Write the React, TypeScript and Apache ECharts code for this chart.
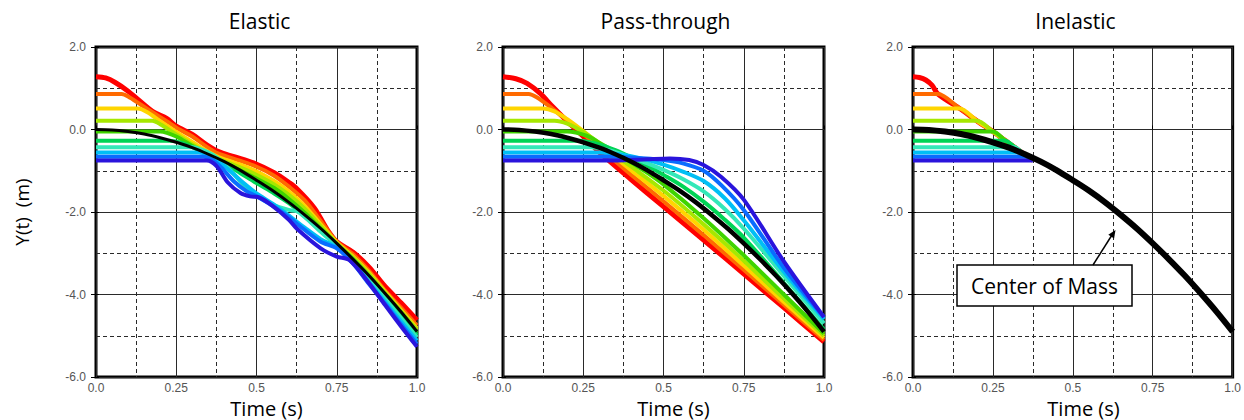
import React, { useEffect, useRef } from "react";
import * as echarts from "echarts";

type Pt = [number, number];

// ---------- texts ----------
const panelTitles = ["Elastic", "Pass-through", "Inelastic"];
const xTickValues = [0, 0.25, 0.5, 0.75, 1];
const xTickLabels = ["0.0", "0.25", "0.5", "0.75", "1.0"];
const xAxisTitle = "Time (s)";
const yAxisTitle = "Y(t)  (m)";
const calloutText = "Center of Mass";

// ---------- particle colours (top particle first) ----------
const particleColors = [
  "#ff0000", "#ff6a00", "#ffd500", "#a6e800", "#3fd400",
  "#00d455", "#33e8b8", "#00bff5", "#0a6cff", "#2a14dc",
];
const startLevels = [1.28, 0.86, 0.51, 0.21, -0.05, -0.27, -0.43, -0.56, -0.66, -0.75];

// ---------- centre of mass (black) ----------
const comTimes = [0, 0.05, 0.1, 0.15, 0.2, 0.25, 0.3, 0.35, 0.4, 0.45, 0.5, 0.55, 0.6, 0.65, 0.7, 0.75, 0.8, 0.85, 0.9, 0.95, 1.0];
const comValues = [0, -0.01, -0.05, -0.11, -0.2, -0.31, -0.44, -0.6, -0.78, -0.99, -1.23, -1.48, -1.76, -2.07, -2.4, -2.76, -3.14, -3.54, -3.97, -4.42, -4.9];

// ---------- Elastic ----------
const elasticRed: Pt[] = [[0, 1.28], [0.03, 1.25], [0.06, 1.14], [0.1, 0.93], [0.14, 0.67], [0.18, 0.42], [0.22, 0.27], [0.25, 0.08], [0.3, -0.12], [0.345, -0.37], [0.38, -0.53], [0.43, -0.66], [0.49, -0.81], [0.555, -1.05], [0.6, -1.28], [0.625, -1.43], [0.68, -1.9], [0.72, -2.42], [0.75, -2.72], [0.8, -2.97], [0.85, -3.33], [0.9, -3.8], [0.95, -4.2], [1.0, -4.62]];
const elasticOrange: Pt[] = [[0, 0.86], [0.06, 0.86], [0.08, 0.86], [0.1, 0.8], [0.14, 0.6], [0.18, 0.4], [0.22, 0.2], [0.26, 0.0], [0.3, -0.17], [0.345, -0.42], [0.38, -0.58], [0.43, -0.71], [0.49, -0.87], [0.555, -1.12], [0.6, -1.38], [0.65, -1.72], [0.7, -2.22], [0.75, -2.72], [0.8, -3.02], [0.85, -3.42], [0.9, -3.9], [0.95, -4.32], [1.0, -4.75]];
const elasticYellow: Pt[] = [[0, 0.51], [0.11, 0.51], [0.13, 0.51], [0.16, 0.42], [0.2, 0.2], [0.25, -0.06], [0.3, -0.3], [0.345, -0.52], [0.38, -0.66], [0.43, -0.8], [0.49, -0.98], [0.555, -1.25], [0.6, -1.5], [0.65, -1.85], [0.7, -2.3], [0.75, -2.74], [0.8, -3.08], [0.85, -3.47], [0.9, -3.93], [0.95, -4.38], [1.0, -4.82]];
const elasticLime: Pt[] = [[0, 0.21], [0.155, 0.21], [0.175, 0.21], [0.2, 0.13], [0.25, -0.12], [0.3, -0.36], [0.345, -0.57], [0.38, -0.7], [0.43, -0.86], [0.49, -1.06], [0.555, -1.33], [0.6, -1.58], [0.65, -1.92], [0.7, -2.34], [0.75, -2.76], [0.8, -3.1], [0.85, -3.5], [0.9, -3.95], [0.95, -4.4], [1.0, -4.86]];
const elasticGreen: Pt[] = [[0, -0.05], [0.18, -0.05], [0.2, -0.05], [0.25, -0.17], [0.3, -0.4], [0.345, -0.6], [0.38, -0.73], [0.43, -0.92], [0.49, -1.15], [0.555, -1.42], [0.6, -1.68], [0.65, -2.02], [0.7, -2.4], [0.75, -2.78], [0.8, -3.14], [0.85, -3.55], [0.9, -4.0], [0.95, -4.45], [1.0, -4.92]];
const elasticGreen2: Pt[] = [[0, -0.27], [0.21, -0.27], [0.23, -0.27], [0.27, -0.33], [0.32, -0.5], [0.36, -0.64], [0.4, -0.82], [0.45, -1.06], [0.5, -1.3], [0.555, -1.55], [0.6, -1.78], [0.65, -2.1], [0.7, -2.46], [0.75, -2.8], [0.8, -3.17], [0.85, -3.6], [0.9, -4.05], [0.95, -4.52], [1.0, -4.98]];
const elasticAqua: Pt[] = [[0, -0.43], [0.28, -0.43], [0.3, -0.43], [0.34, -0.52], [0.38, -0.7], [0.42, -1.0], [0.46, -1.35], [0.5, -1.6], [0.55, -1.82], [0.6, -1.95], [0.625, -1.98], [0.65, -2.12], [0.7, -2.48], [0.75, -2.82], [0.8, -3.2], [0.85, -3.64], [0.9, -4.1], [0.95, -4.57], [1.0, -5.04]];
const elasticCyan: Pt[] = [[0, -0.56], [0.3, -0.56], [0.32, -0.56], [0.35, -0.62], [0.38, -0.76], [0.42, -1.02], [0.46, -1.3], [0.5, -1.55], [0.55, -1.8], [0.6, -2.08], [0.65, -2.38], [0.7, -2.66], [0.75, -2.86], [0.8, -3.22], [0.85, -3.7], [0.9, -4.17], [0.95, -4.65], [1.0, -5.12]];
const elasticBlue: Pt[] = [[0, -0.66], [0.315, -0.66], [0.335, -0.66], [0.36, -0.72], [0.39, -0.92], [0.43, -1.26], [0.47, -1.5], [0.5, -1.62], [0.55, -1.85], [0.6, -2.12], [0.625, -2.28], [0.7, -2.72], [0.75, -2.88], [0.8, -3.24], [0.85, -3.74], [0.9, -4.22], [0.95, -4.72], [1.0, -5.2]];
const elasticDark: Pt[] = [[0, -0.75], [0.325, -0.75], [0.345, -0.75], [0.375, -0.88], [0.41, -1.28], [0.45, -1.54], [0.48, -1.62], [0.51, -1.65], [0.55, -1.85], [0.6, -2.18], [0.625, -2.4], [0.7, -2.88], [0.75, -3.08], [0.79, -3.17], [0.85, -3.72], [0.9, -4.25], [0.95, -4.77], [1.0, -5.27]];

// ---------- Pass-through ----------
const passRed: Pt[] = [[0, 1.28], [0.04, 1.23], [0.075, 1.12], [0.115, 0.88], [0.155, 0.55], [0.2, 0.2], [0.25, -0.17], [0.3, -0.55], [0.4, -1.22], [0.5, -1.87], [0.625, -2.68], [0.75, -3.5], [0.875, -4.32], [1.0, -5.15]];
const passOrange: Pt[] = [[0, 0.86], [0.06, 0.86], [0.08, 0.86], [0.105, 0.78], [0.15, 0.53], [0.2, 0.22], [0.25, -0.1], [0.3, -0.44], [0.4, -1.1], [0.5, -1.74], [0.625, -2.56], [0.75, -3.4], [0.875, -4.25], [1.0, -5.1]];
const passYellow: Pt[] = [[0, 0.51], [0.105, 0.51], [0.125, 0.51], [0.16, 0.44], [0.2, 0.25], [0.25, -0.04], [0.3, -0.36], [0.35, -0.68], [0.4, -0.99], [0.5, -1.61], [0.625, -2.43], [0.75, -3.3], [0.875, -4.18], [1.0, -5.05]];
const passLime: Pt[] = [[0, 0.21], [0.14, 0.21], [0.16, 0.21], [0.2, 0.14], [0.25, -0.06], [0.3, -0.33], [0.35, -0.62], [0.4, -0.9], [0.5, -1.48], [0.625, -2.3], [0.75, -3.18], [0.875, -4.1], [1.0, -5.0]];
const passGreen: Pt[] = [[0, -0.05], [0.18, -0.05], [0.2, -0.05], [0.26, -0.15], [0.3, -0.32], [0.35, -0.55], [0.4, -0.8], [0.45, -1.05], [0.5, -1.33], [0.625, -2.15], [0.75, -3.05], [0.875, -4.0], [1.0, -4.95]];
const passGreen2: Pt[] = [[0, -0.27], [0.22, -0.27], [0.24, -0.27], [0.3, -0.36], [0.35, -0.5], [0.4, -0.68], [0.45, -0.88], [0.5, -1.1], [0.56, -1.38], [0.625, -1.75], [0.69, -2.18], [0.75, -2.62], [0.875, -3.72], [1.0, -4.85]];
const passAqua: Pt[] = [[0, -0.43], [0.25, -0.43], [0.27, -0.43], [0.33, -0.5], [0.4, -0.68], [0.45, -0.82], [0.5, -0.98], [0.56, -1.2], [0.625, -1.5], [0.69, -1.92], [0.75, -2.4], [0.875, -3.55], [1.0, -4.7]];
const passCyan: Pt[] = [[0, -0.56], [0.28, -0.56], [0.3, -0.56], [0.36, -0.6], [0.43, -0.7], [0.5, -0.85], [0.56, -1.02], [0.625, -1.25], [0.69, -1.66], [0.75, -2.2], [0.875, -3.45], [1.0, -4.6]];
const passBlue: Pt[] = [[0, -0.66], [0.31, -0.66], [0.33, -0.66], [0.4, -0.68], [0.5, -0.74], [0.56, -0.82], [0.625, -1.0], [0.68, -1.35], [0.75, -1.95], [0.875, -3.35], [1.0, -4.55]];
const passDark: Pt[] = [[0, -0.75], [0.33, -0.75], [0.35, -0.75], [0.45, -0.72], [0.52, -0.7], [0.58, -0.74], [0.625, -0.86], [0.68, -1.15], [0.75, -1.7], [0.875, -3.2], [1.0, -4.55]];

// ---------- Inelastic ----------
const inelasticClump: Pt[] = [[0, 1.28], [0.02, 1.26], [0.04, 1.2], [0.06, 1.07], [0.078, 0.86], [0.146, 0.51], [0.2, 0.21], [0.25, -0.05], [0.289, -0.27], [0.318, -0.43], [0.341, -0.56], [0.359, -0.66], [0.375, -0.75]];
const inelasticJoinTimes = [0, 0.078, 0.146, 0.2, 0.25, 0.289, 0.318, 0.341, 0.359, 0.375];

// ---------- layout (not data) ----------
const GRID_LEFTS = [96, 503, 913];
const GRID_TOP = 47;
const GRID_W = 321;
const GRID_H = 330;
const TITLE_OFFSETS = [3, 2, 2];
const BLACK_WIDTHS = [3, 4.5, 6];
const FONT = "Open Sans";

function buildInelastic(): Pt[][] {
  return startLevels.map((lvl, i) => {
    const join = inelasticJoinTimes[i];
    if (i === 0) return inelasticClump;
    const tail = inelasticClump.filter((p) => p[0] >= join - 1e-9);
    return [[0, lvl], [Math.max(0, join - 0.02), lvl], ...tail] as Pt[];
  });
}

function buildOption(): any {
  const comPoints: Pt[] = comTimes.map((t, i) => [t, comValues[i]]);
  const panels: Pt[][][] = [
    [elasticRed, elasticOrange, elasticYellow, elasticLime, elasticGreen, elasticGreen2, elasticAqua, elasticCyan, elasticBlue, elasticDark],
    [passRed, passOrange, passYellow, passLime, passGreen, passGreen2, passAqua, passCyan, passBlue, passDark],
    buildInelastic(),
  ];

  const gridLine = { color: "#2a2a2a", width: 1 };
  const dashLine = { color: "#2a2a2a", width: 1, type: [4, 3] };
  const labelStyle = { color: "#555", fontSize: 12, fontFamily: "Liberation Sans" };

  const grid = GRID_LEFTS.map((l) => ({
    left: l, top: GRID_TOP, width: GRID_W, height: GRID_H,
    show: true, borderColor: "#000", borderWidth: 3, backgroundColor: "#fff",
  }));

  const xBottom = GRID_LEFTS.map((_, p) => ({
    type: "value", gridIndex: p, position: "bottom", min: 0, max: 1, interval: 0.25,
    axisLine: { show: false }, axisTick: { show: false },
    axisLabel: {
      ...labelStyle, margin: 5,
      formatter: (v: number) => {
        const k = xTickValues.findIndex((x) => Math.abs(x - v) < 1e-6);
        return k >= 0 ? xTickLabels[k] : "";
      },
    },
    splitLine: { show: true, lineStyle: gridLine },
    minorTick: { show: false, splitNumber: 2 },
    minorSplitLine: { show: true, lineStyle: dashLine },
  }));
  const xTop = GRID_LEFTS.map((_, p) => ({
    type: "value", gridIndex: p, position: "top", min: 0, max: 1, interval: 0.25,
    axisLine: { show: false }, axisLabel: { show: false }, splitLine: { show: false },
    axisTick: { show: true, length: 4, lineStyle: { color: "#000", width: 1 } },
  }));
  const yLeft = GRID_LEFTS.map((_, p) => ({
    type: "value", gridIndex: p, position: "left", min: -6, max: 2, interval: 2,
    axisLine: { show: false },
    axisTick: { show: true, length: 5, lineStyle: { color: "#000", width: 1 } },
    axisLabel: { ...labelStyle, margin: 10, formatter: (v: number) => v.toFixed(1) },
    splitLine: { show: true, lineStyle: gridLine },
    minorTick: { show: false, splitNumber: 2 },
    minorSplitLine: { show: true, lineStyle: dashLine },
  }));
  const yRight = GRID_LEFTS.map((_, p) => ({
    type: "value", gridIndex: p, position: "right", min: -6, max: 2, interval: 2,
    axisLine: { show: false }, axisLabel: { show: false }, splitLine: { show: false },
    axisTick: { show: true, length: 3, lineStyle: { color: "#000", width: 1 } },
  }));

  const series: any[] = [];
  panels.forEach((lines, p) => {
    lines.forEach((data, i) => {
      series.push({
        type: "line", xAxisIndex: p, yAxisIndex: p, data, symbol: "none", smooth: 0.3,
        silent: true, z: 2,
        lineStyle: { color: particleColors[i], width: i === 0 ? 5 : 4 },
      });
    });
    series.push({
      type: "line", xAxisIndex: p, yAxisIndex: p, data: comPoints, symbol: "none", smooth: 0.3,
      silent: true, z: 3,
      lineStyle: { color: "#000", width: BLACK_WIDTHS[p] },
    });
  });

  const textStyle = (text: string, size: number) => ({
    text, fontSize: size, fontFamily: FONT, fill: "#000", align: "center", verticalAlign: "middle",
  });

  const graphic: any[] = [
    ...panelTitles.map((t, p) => ({
      type: "text", x: GRID_LEFTS[p] + GRID_W / 2 + TITLE_OFFSETS[p], y: 21, style: textStyle(t, 21),
    })),
    ...GRID_LEFTS.map((l) => ({
      type: "text", x: l + GRID_W / 2 + 10, y: 408, style: textStyle(xAxisTitle, 20),
    })),
    { type: "text", x: 22, y: 212, rotation: Math.PI / 2, style: textStyle(yAxisTitle, 19) },
    {
      type: "rect", z: 50, shape: { x: 957, y: 265, width: 175, height: 41 },
      style: { fill: "#fff", stroke: "#000", lineWidth: 1.5 },
    },
    { type: "text", z: 51, x: 1044.5, y: 285.5, style: textStyle(calloutText, 21) },
    {
      type: "line", z: 50, shape: { x1: 1093, y1: 265, x2: 1112, y2: 235 },
      style: { stroke: "#000", lineWidth: 1.5 },
    },
    {
      type: "polygon", z: 50, shape: { points: [[1115.5, 230], [1114.1, 238.6], [1108.3, 234.8]] },
      style: { fill: "#000" },
    },
  ];

  return {
    animation: false,
    backgroundColor: "#fff",
    grid,
    xAxis: [...xBottom, ...xTop],
    yAxis: [...yLeft, ...yRight],
    series,
    graphic,
  };
}

export default function App() {
  const ref = useRef<HTMLDivElement>(null);
  useEffect(() => {
    if (!ref.current) return;
    const chart = echarts.init(ref.current, undefined, { renderer: "svg" });
    chart.setOption(buildOption());
    return () => chart.dispose();
  }, []);
  return (
    <div
      ref={ref}
      style={{ position: "fixed", left: 0, top: 0, width: 1244, height: 420, background: "#fff" }}
    />
  );
}
